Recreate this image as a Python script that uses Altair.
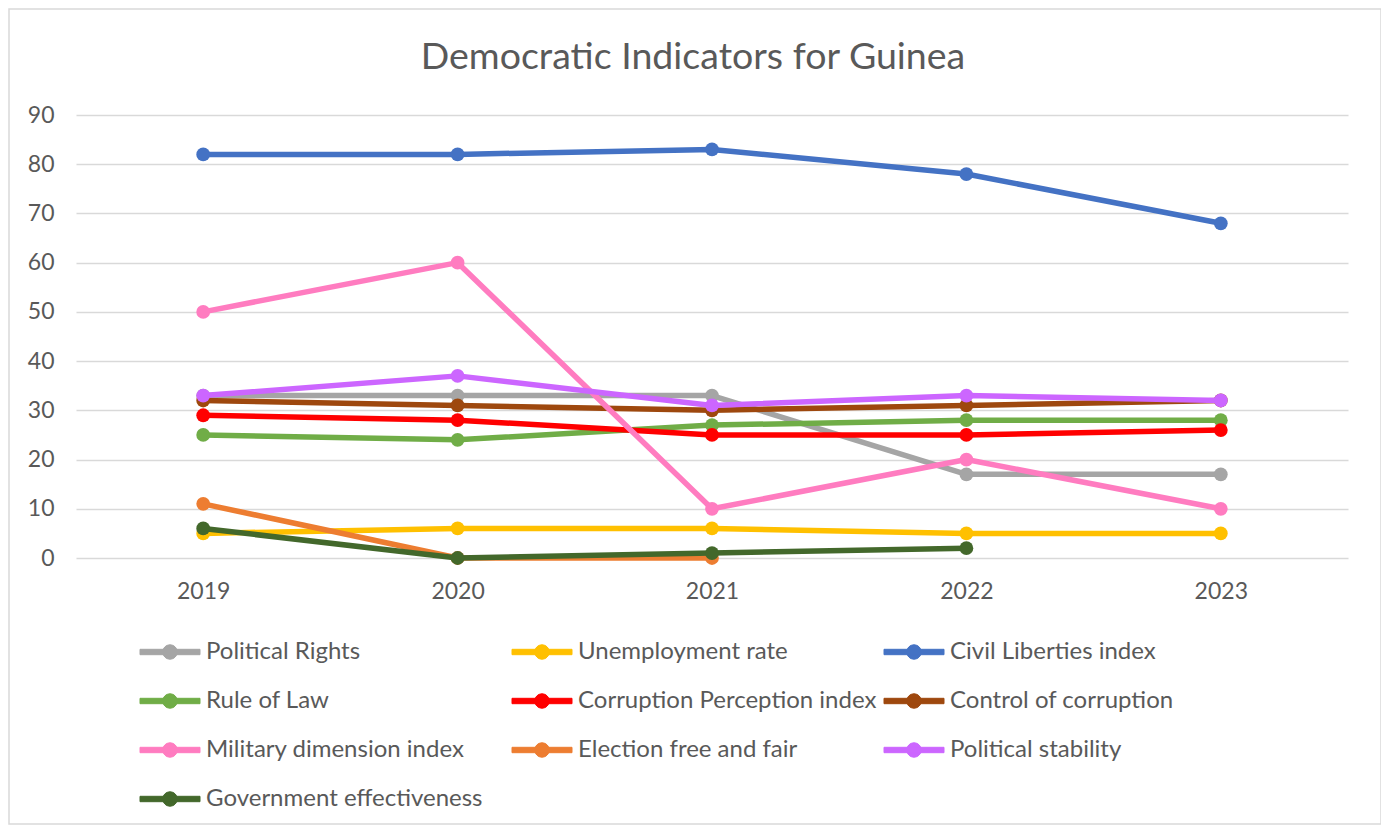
import altair as alt
import pandas as pd

years = ["2019", "2020", "2021", "2022", "2023"]
series_names = [
    "Political Rights", "Unemployment rate", "Civil Liberties index",
    "Rule of Law", "Corruption Perception index", "Control of corruption",
    "Military dimension index", "Election free and fair", "Political stability",
    "Government effectiveness",
]
political_rights = [33, 33, 33, 17, 17]
unemployment_rate = [5, 6, 6, 5, 5]
civil_liberties = [82, 82, 83, 78, 68]
rule_of_law = [25, 24, 27, 28, 28]
corruption_perception = [29, 28, 25, 25, 26]
control_of_corruption = [32, 31, 30, 31, 32]
military_dimension = [50, 60, 10, 20, 10]
election_free_fair = [11, 0, 0, None, None]
political_stability = [33, 37, 31, 33, 32]
government_effectiveness = [6, 0, 1, 2, None]

series_values = [
    political_rights, unemployment_rate, civil_liberties, rule_of_law,
    corruption_perception, control_of_corruption, military_dimension,
    election_free_fair, political_stability, government_effectiveness,
]
colors = ["#A5A5A5", "#FFC000", "#4472C4", "#70AD47", "#FF0000", "#9E480E",
          "#FF7CC0", "#ED7D31", "#CC66FF", "#43682B"]

rows = []
for name, vals in zip(series_names, series_values):
    for y, v in zip(years, vals):
        if v is not None:
            rows.append({"year": y, "series": name, "value": v})
df = pd.DataFrame(rows)

FONT = "Lato"
TXT = "#595959"

color_scale = alt.Scale(domain=series_names, range=colors)
x_enc = alt.X("year:O", scale=alt.Scale(type="point", padding=0.5),
              axis=alt.Axis(title=None, labelAngle=0, ticks=False, domain=False,
                            grid=False, labelPadding=22, labelFontSize=23,
                            labelColor=TXT, labelFont=FONT))
y_enc = alt.Y("value:Q", scale=alt.Scale(domain=[0, 90], nice=False, zero=True),
              axis=alt.Axis(title=None, values=list(range(0, 100, 10)), ticks=False,
                            domain=False, gridColor="#D9D9D9", gridWidth=1.5,
                            labelPadding=22, labelFontSize=23, labelColor=TXT,
                            labelFont=FONT))

sym_path = ("M-3,-0.27H3V0.27H-3Z "
            "M0.72,0A0.72,0.72,0,1,1,-0.72,0A0.72,0.72,0,1,1,0.72,0Z")
legend = alt.Legend(
    title=None, orient="none", legendX=82, legendY=525, columns=3,
    direction="horizontal",
    gridAlign="all", columnPadding=5, rowPadding=25, symbolType=sym_path,
    symbolSize=400, symbolOpacity=1, symbolStrokeWidth=1, labelOffset=24,
    labelFontSize=24, labelFont=FONT, labelColor=TXT, labelLimit=600,
)

frame = alt.Chart(pd.DataFrame({"f": [0]})).mark_rect(
    fill="transparent", stroke="#D9D9D9", strokeWidth=1.5
).encode(x=alt.value(-67), x2=alt.value(1305), y=alt.value(-106), y2=alt.value(709))

layers = [frame]
for name in series_names:
    base = alt.Chart(df).transform_filter(alt.datum.series == name)
    line = base.mark_line(strokeWidth=5.5, strokeCap="round", strokeJoin="round").encode(
        x=x_enc, y=y_enc,
        color=alt.Color("series:N", scale=color_scale, legend=legend))
    pts = base.mark_point(filled=True, size=190, opacity=1).encode(
        x=x_enc, y=y_enc,
        color=alt.Color("series:N", scale=color_scale, legend=legend))
    layers += [line, pts]

chart = alt.layer(*layers).properties(
    width=1272, height=443,
    title=alt.TitleParams("Democratic Indicators for Guinea", fontSize=37.5,
                          font=FONT, fontWeight="normal", color=TXT,
                          anchor="middle", dx=-19, offset=-68),
    autosize="none",
    background="white",
    padding={"left": 68, "top": 107, "right": 33, "bottom": 268},
).configure_view(stroke=None)

chart.save("out.html", embed_options={"renderer": "svg", "actions": False})
